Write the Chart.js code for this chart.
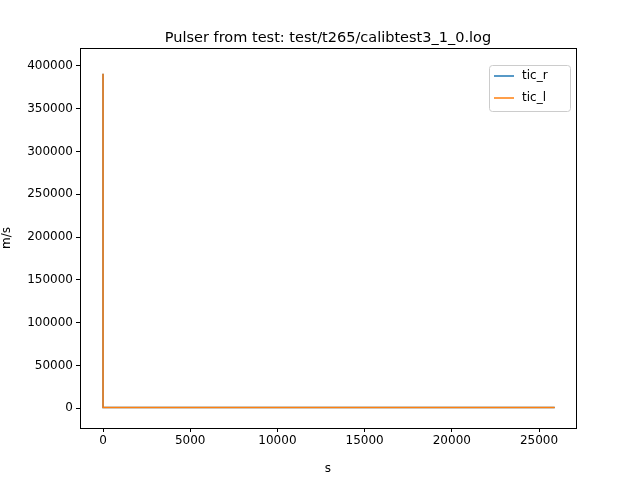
<!DOCTYPE html>
<html><head><script src="https://cdn.jsdelivr.net/npm/chart.js@4"></script>
<style>body{margin:0}canvas{display:block}</style></head><body>
<div style="width:640px;height:480px"><canvas id="c"></canvas></div>
<script>
const xTicks=[0,5000,10000,15000,20000,25000];
const yTicks=[0,50000,100000,150000,200000,250000,300000,350000,400000];
const ticX=[0,0,1,25900];
const ticR=[1000,391000,1000,1000];
const ticL=[1000,391000,1000,1000];
const seriesNames=['tic_r','tic_l'];
const colors=['#1f77b4','#ff7f0e'];
const titleText='Pulser from test: test/t265/calibtest3_1_0.log';
const pts=v=>ticX.map((x,i)=>({x:x,y:v[i]}));
const font='"DejaVu Sans"';
const deco={id:'deco',afterDraw(c){const a=c.chartArea,g=c.ctx;g.save();
g.strokeStyle='#000';g.lineWidth=1;g.strokeRect(Math.round(a.left)+0.5,Math.round(a.top)+0.5,Math.round(a.right-a.left),Math.round(a.bottom-a.top));
g.fillStyle='#000';g.font='14.5px '+font;g.textAlign='center';g.textBaseline='alphabetic';g.fillText(titleText,(a.left+a.right)/2,a.top-6);
const lx=489,ly=65,lw=81,lh=46;g.fillStyle='rgba(255,255,255,0.8)';g.strokeStyle='#ccc';g.beginPath();g.roundRect(lx+0.5,ly+0.5,lw,lh,3);g.fill();g.stroke();
g.font='12px '+font;g.textAlign='left';g.textBaseline='middle';
seriesNames.forEach((n,i)=>{const y=ly+11+i*22;g.strokeStyle=colors[i];g.lineWidth=1.5;g.beginPath();g.moveTo(lx+5,y);g.lineTo(lx+25,y);g.stroke();g.fillStyle='#000';g.fillText(n,lx+33,y);});
g.restore();}};
new Chart(document.getElementById('c'),{type:'line',
data:{datasets:seriesNames.map((n,i)=>({label:n,data:pts(i?ticL:ticR),borderColor:colors[i],borderWidth:1.5,pointRadius:0,tension:0,order:1-i}))},
options:{responsive:true,maintainAspectRatio:false,animation:false,
layout:{padding:{top:48,right:64,left:0,bottom:0}},
plugins:{legend:{display:false},title:{display:false},tooltip:{enabled:false}},
scales:{
x:{type:'linear',min:-1320,max:27120,afterFit(s){s.height=52},afterBuildTicks(s){s.ticks=xTicks.map(v=>({value:v}))},
grid:{drawOnChartArea:false,tickLength:4,color:'#000'},border:{display:false},
ticks:{color:'#000',font:{family:font,size:12},maxRotation:0,padding:2,callback:v=>String(v)},
title:{display:true,text:'s',color:'#000',font:{family:font,size:12},padding:{top:-4}}},
y:{type:'linear',min:-23000,max:421000,afterFit(s){s.width=80},afterBuildTicks(s){s.ticks=yTicks.map(v=>({value:v}))},
grid:{drawOnChartArea:false,tickLength:4,color:'#000'},border:{display:false},
ticks:{color:'#000',font:{family:font,size:12},padding:3,callback:v=>String(v)},
title:{display:true,text:'m/s',color:'#000',font:{family:font,size:12},padding:{top:0,bottom:-4}}}}},
plugins:[deco]});
</script></body></html>
